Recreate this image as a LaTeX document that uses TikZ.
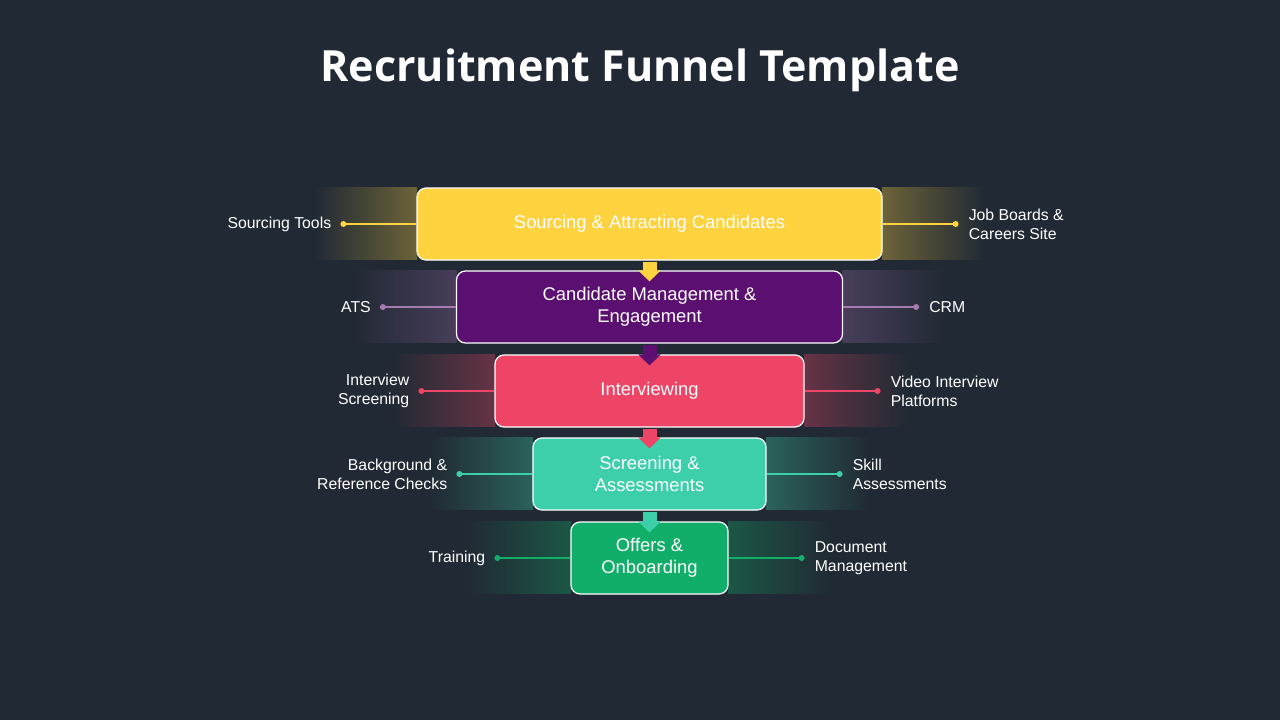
\documentclass[tikz,border=0pt]{standalone}
\usepackage{fontspec}
\setmainfont{Liberation Sans}
\newfontfamily\titlefont{Open Sans}
\usepackage{tikz}
\usetikzlibrary{arrows.meta,calc}
\definecolor{bg}{RGB}{33,42,52}
\definecolor{ylw}{RGB}{255,210,64}
\definecolor{prp}{RGB}{91,15,112}
\definecolor{rsd}{RGB}{238,68,102}
\definecolor{tql}{RGB}{60,207,170}
\definecolor{grn}{RGB}{16,174,104}

\begin{document}
\begin{tikzpicture}[x=1pt,y=-1pt,
  stage/.style={draw=white,line width=1.2pt,rounded corners=9pt,minimum height=72pt,
    inner sep=0pt,align=center,text=white,font=\fontsize{18.4}{22}\selectfont},
  side/.style={inner sep=0pt,text=white,font=\fontsize{15.8}{19}\selectfont},
  lnk/.style={line width=1.3pt},
  drop/.style={line width=14pt,-{Triangle[width=22pt,length=11pt]}}]
  \fill[bg] (0,0) rectangle (1280,720);
  \node[font=\titlefont\bfseries\fontsize{43}{50}\selectfont,text=white,anchor=base] (ttl) at (640,81) {Recruitment Funnel Template};
  % glow bands behind the stages
  \foreach \y/\w/\c in {223/465/ylw, 306.5/386/prp!65!white, 390/309/rsd, 473.5/233/tql, 557/157/grn} {
    \shade[left color=bg,right color=\c!34!bg] ({649.5-\w/2-102},{\y-36}) rectangle ({649.5-\w/2},{\y+36});
    \shade[right color=bg,left color=\c!34!bg] ({649.5+\w/2},{\y-36}) rectangle ({649.5+\w/2+102},{\y+36});
  }
  % stages
  \node[stage,fill=ylw,minimum width=465pt] (src) at (649.5,224) {Sourcing \& Attracting Candidates};
  \node[stage,fill=prp,minimum width=386pt] (cme) at (649.5,307) {Candidate Management \&\\Engagement};
  \node[stage,fill=rsd,minimum width=309pt] (intv) at (649.5,391) {Interviewing};
  \node[stage,fill=tql,minimum width=233pt] (scr) at (649.5,474) {Screening \&\\Assessments};
  \node[stage,fill=grn,minimum width=157pt] (offr) at (649.5,558) {Offers \&\\Onboarding};
  % arrows between stages
  \draw[drop,ylw] ($(src.south)+(0,1)$) -- ($(cme.north)+(0,11)$);
  \draw[drop,prp] ($(cme.south)+(0,1)$) -- ($(intv.north)+(0,11)$);
  \draw[drop,rsd] ($(intv.south)+(0,1)$) -- ($(scr.north)+(0,11)$);
  \draw[drop,tql] ($(scr.south)+(0,1)$) -- ($(offr.north)+(0,11)$);
  % side tools
  \coordinate (srcL) at ($(src.west)+(-73,0)$);
  \coordinate (srcR) at ($(src.east)+(73,0)$);
  \coordinate (cmeL) at ($(cme.west)+(-73,0)$);
  \coordinate (cmeR) at ($(cme.east)+(73,0)$);
  \coordinate (intvL) at ($(intv.west)+(-73,0)$);
  \coordinate (intvR) at ($(intv.east)+(73,0)$);
  \coordinate (scrL) at ($(scr.west)+(-73,0)$);
  \coordinate (scrR) at ($(scr.east)+(73,0)$);
  \coordinate (offrL) at ($(offr.west)+(-73,0)$);
  \coordinate (offrR) at ($(offr.east)+(73,0)$);
  \draw[lnk,ylw] (src.west) -- (srcL) (src.east) -- (srcR);
  \fill[ylw] (srcL) circle (3) (srcR) circle (3);
  \draw[lnk,prp!55!white] (cme.west) -- (cmeL) (cme.east) -- (cmeR);
  \fill[prp!55!white] (cmeL) circle (3) (cmeR) circle (3);
  \draw[lnk,rsd] (intv.west) -- (intvL) (intv.east) -- (intvR);
  \fill[rsd] (intvL) circle (3) (intvR) circle (3);
  \draw[lnk,tql] (scr.west) -- (scrL) (scr.east) -- (scrR);
  \fill[tql] (scrL) circle (3) (scrR) circle (3);
  \draw[lnk,grn] (offr.west) -- (offrL) (offr.east) -- (offrR);
  \fill[grn] (offrL) circle (3) (offrR) circle (3);
  \node[side,anchor=east,align=right] (srcT) at ($(srcL)+(-12,0)$) {Sourcing Tools};
  \node[side,anchor=west,align=left] (srcB) at ($(srcR)+(13,0)$) {Job Boards \&\\Careers Site};
  \node[side,anchor=east,align=right] (cmeA) at ($(cmeL)+(-12,0)$) {ATS};
  \node[side,anchor=west,align=left] (cmeC) at ($(cmeR)+(13,0)$) {CRM};
  \node[side,anchor=east,align=right] (intvS) at ($(intvL)+(-12,0)$) {Interview\\Screening};
  \node[side,anchor=west,align=left] (intvV) at ($(intvR)+(13,0)$) {Video Interview\\Platforms};
  \node[side,anchor=east,align=right] (scrB) at ($(scrL)+(-12,0)$) {Background \&\\Reference Checks};
  \node[side,anchor=west,align=left] (scrS) at ($(scrR)+(13,0)$) {Skill\\Assessments};
  \node[side,anchor=east,align=right] (offrT) at ($(offrL)+(-12,0)$) {Training};
  \node[side,anchor=west,align=left] (offrD) at ($(offrR)+(13,0)$) {Document\\Management};
\end{tikzpicture}
\end{document}
